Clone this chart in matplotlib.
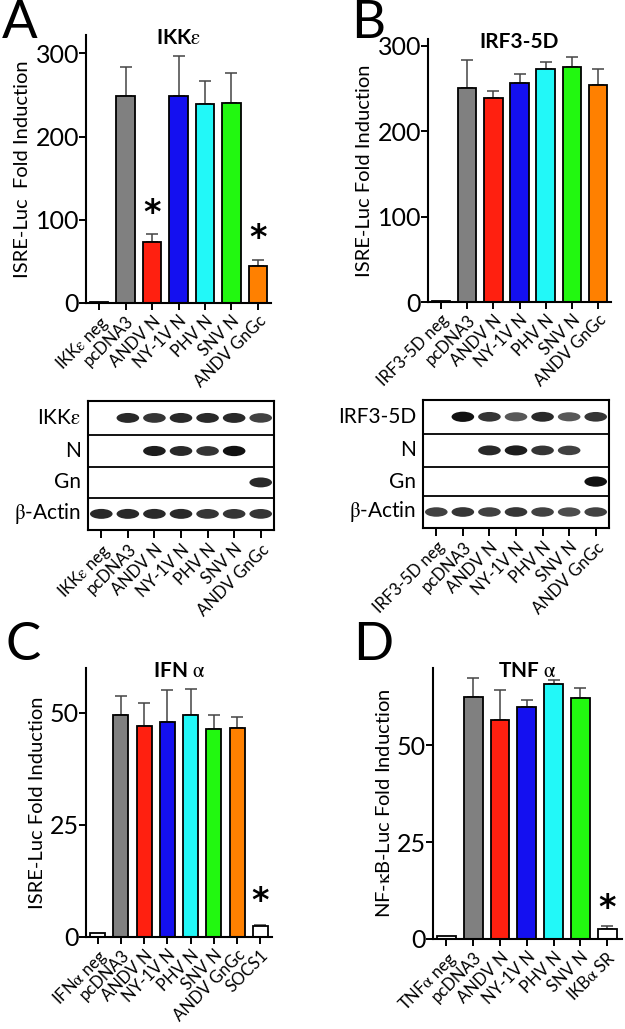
import matplotlib
matplotlib.use("Agg")
import matplotlib.pyplot as plt
from matplotlib.patches import Ellipse
import numpy as np

plt.rcParams["font.family"] = ["Lato", "DejaVu Sans"]
plt.rcParams["mathtext.fontset"] = "stix"

W, H = 625, 1029

# --- Data --------------------------------------------------------------------
COLORS = ["white", "#808080", "#ff2010", "#1410f0", "#22f8f8", "#22f810", "#ff8000"]

a_labels = [r"IKK$\mathrm{\varepsilon}$ neg", "pcDNA3", "ANDV N", "NY-1V N",
            "PHV N", "SNV N", "ANDV GnGc"]
a_values = [0.8, 249, 73, 249, 239, 240, 44]
a_err = [0, 35, 10, 48, 28, 36, 8]
a_star = [None, None, 107, None, None, None, 78]

b_labels = ["IRF3-5D neg", "pcDNA3", "ANDV N", "NY-1V N", "PHV N", "SNV N", "ANDV GnGc"]
b_values = [0.8, 251, 239, 256, 273, 275, 254]
b_err = [0, 32, 8, 11, 8, 12, 19]

c_labels = [r"IFN$\mathrm{\alpha}$ neg", "pcDNA3", "ANDV N", "NY-1V N", "PHV N",
            "SNV N", "ANDV GnGc", "SOCS1"]
c_values = [0.9, 49.5, 47.0, 48.0, 49.6, 46.4, 46.7, 2.4]
c_err = [0, 4.2, 5.1, 7.2, 5.7, 3.2, 2.4, 0.3]
c_star = [None] * 7 + [7.9]

d_labels = [r"TNF$\mathrm{\alpha}$ neg", "pcDNA3", "ANDV N", "NY-1V N", "PHV N",
            "SNV N", r"IKB$\mathrm{\alpha}$ SR"]
d_values = [0.9, 62.6, 56.6, 59.9, 65.9, 62.3, 2.6]
d_err = [0, 4.7, 7.7, 1.9, 1.0, 2.5, 0.7]
d_star = [None] * 6 + [8.0]
d_colors = COLORS[:6] + ["white"]
c_colors = COLORS + ["white"]

# western blot band intensities (rows x lanes)
a_blot_rows = [r"IKK$\mathrm{\varepsilon}$", "N", "Gn", r"$\mathrm{\beta}$-Actin"]
a_blot = [[0, 0.9, 0.85, 0.9, 0.9, 0.9, 0.8],
          [0, 0, 0.95, 0.9, 0.85, 1.0, 0],
          [0, 0, 0, 0, 0, 0, 0.9],
          [0.9, 0.9, 0.9, 0.9, 0.85, 0.85, 0.85]]
b_blot_rows = ["IRF3-5D", "N", "Gn", r"$\mathrm{\beta}$-Actin"]
b_blot = [[0, 1.0, 0.85, 0.7, 0.9, 0.7, 0.85],
          [0, 0, 0.9, 0.95, 0.85, 0.8, 0],
          [0, 0, 0, 0, 0, 0, 1.0],
          [0.8, 0.85, 0.8, 0.85, 0.8, 0.75, 0.8]]
# -----------------------------------------------------------------------------

XT_SIZE = 12

fig = plt.figure(figsize=(W / 100, H / 100), dpi=100)


def px_axes(left, top, right, bottom):
    return fig.add_axes([left / W, 1 - bottom / H, (right - left) / W, (bottom - top) / H])


def bar_panel(ax, labels, values, err, colors, ymax, yticks, title, ylabel,
              stars=None, xmax=None, width=0.7):
    x = np.arange(len(values))
    ax.bar(x, values, width=width, color=colors, edgecolor="black", linewidth=1.3, zorder=2)
    ax.errorbar(x[1:], np.array(values[1:]), yerr=[np.zeros(len(x) - 1), err[1:]],
                fmt="none", ecolor="#444444", elinewidth=1.1, capsize=4.5,
                capthick=1.1, zorder=1)
    if stars:
        for xi, s in zip(x, stars):
            if s is not None:
                ax.text(xi, s, "*", ha="center", va="center", fontsize=24,
                        fontweight="bold", family="DejaVu Sans")
    ax.set_xlim(-0.5, xmax if xmax else len(values) - 0.5)
    ax.set_ylim(0, ymax)
    ax.set_yticks(yticks)
    ax.set_xticks(x)
    ax.set_xticklabels(labels, rotation=45, ha="right", rotation_mode="anchor",
                       fontsize=XT_SIZE)
    ax.tick_params(axis="y", labelsize=18, width=1.4, length=5, pad=0)
    ax.tick_params(axis="x", width=1.4, length=5, pad=2)
    for sp in ["top", "right"]:
        ax.spines[sp].set_visible(False)
    for sp in ["left", "bottom"]:
        ax.spines[sp].set_linewidth(1.5)
    ax.text(0.5, 0.99, title, transform=ax.transAxes, ha="center", va="center",
            fontsize=15, fontweight="bold")
    ax.set_ylabel(ylabel, fontsize=14.5, labelpad=3)


def blot_panel(ax, rows, bands, labels, row_bounds):
    n = len(bands[0])
    ax.set_xlim(-0.5, n - 0.5)
    ax.set_ylim(row_bounds[-1], row_bounds[0])
    for yb in row_bounds[1:-1]:
        ax.axhline(yb, color="black", lw=1.3)
    for r, (name, row) in enumerate(zip(rows, bands)):
        yc = (row_bounds[r] + row_bounds[r + 1]) / 2
        for lane, val in enumerate(row):
            if val > 0:
                ax.add_patch(Ellipse((lane, yc), 0.85, 0.2 + 0.12 * val,
                                     color="#111111", alpha=val, lw=0))
        ax.text(-0.75, yc, name, ha="right", va="center", fontsize=15)
    ax.set_xticks(np.arange(n))
    ax.set_xticklabels(labels, rotation=45, ha="right", rotation_mode="anchor",
                       fontsize=XT_SIZE)
    ax.set_yticks([])
    ax.tick_params(axis="x", width=1.4, length=6, pad=2)
    for sp in ax.spines.values():
        sp.set_linewidth(1.5)


# Panel A
axA = px_axes(86, 35, 271, 303)
bar_panel(axA, a_labels, a_values, a_err, COLORS, 322, [0, 100, 200, 300],
          r"IKK$\mathrm{\varepsilon}$", "ISRE-Luc  Fold Induction", stars=a_star)
fig.text(2 / W, 1 - 23 / H, "A", fontsize=38, va="center", ha="left")

# Panel B
axB = px_axes(428, 39, 611, 302)
bar_panel(axB, b_labels, b_values, b_err, COLORS, 308, [0, 100, 200, 300],
          "IRF3-5D", "ISRE-Luc Fold Induction")
fig.text(351 / W, 1 - 23 / H, "B", fontsize=38, va="center", ha="left")

# Blots
bA = px_axes(88, 401, 274, 530)
blot_panel(bA, a_blot_rows, a_blot, a_labels, [0, 1.05, 2.05, 3.0, 4.0])
bB = px_axes(423, 400, 609, 528)
blot_panel(bB, b_blot_rows, b_blot, b_labels, [0, 1.05, 2.1, 3.0, 4.0])

# Panel C
axC = px_axes(86, 668, 272, 937)
bar_panel(axC, c_labels, c_values, c_err, c_colors, 60, [0, 25, 50],
          r"IFN $\mathrm{\alpha}$", "ISRE-Luc Fold Induction", stars=c_star, width=0.65)
fig.text(5 / W, 1 - 646 / H, "C", fontsize=38, va="center", ha="left")

# Panel D
axD = px_axes(433, 668, 622, 939)
bar_panel(axD, d_labels, d_values, d_err, d_colors, 70, [0, 25, 50],
          r"TNF $\mathrm{\alpha}$", r"NF-$\mathrm{\kappa}$B-Luc Fold Induction",
          stars=d_star, xmax=6.55)
fig.text(353 / W, 1 - 646 / H, "D", fontsize=38, va="center", ha="left")

fig.savefig("out.png", dpi=100)
